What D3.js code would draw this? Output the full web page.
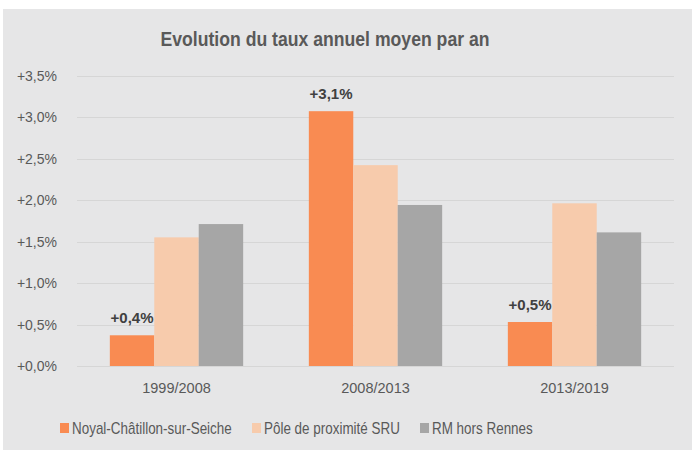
<!DOCTYPE html>
<html lang="fr">
<head>
<meta charset="UTF-8">
<title>Evolution du taux annuel moyen par an</title>
<style>
    body { margin: 0; background: #fff; }
    svg { display: block; }
    text { font-family: "Liberation Sans", Arial, sans-serif; fill: #595959; }
</style>
</head>
<body>
<svg width="692" height="450"></svg>
<script src="https://d3js.org/d3.v7.min.js"></script>
<script>
    // data
    const periods = ["1999/2008", "2008/2013", "2013/2019"];
    const seriesNames = ["Noyal-Châtillon-sur-Seiche", "Pôle de proximité SRU", "RM hors Rennes"];
    const noyal = [0.37, 3.07, 0.53];
    const pole = [1.55, 2.42, 1.96];
    const rmHorsRennes = [1.71, 1.94, 1.61];
    const noyalLabels = ["+0,4%", "+3,1%", "+0,5%"];
    const yTicks = [0, 0.5, 1, 1.5, 2, 2.5, 3, 3.5];
    const colors = ["#f98b52", "#f7cbac", "#a6a6a6"];

    const allSeries = [noyal, pole, rmHorsRennes];
    const narrow = 0.84; // no Arial Narrow here, squeeze Liberation Sans instead

    const svg = d3.select("svg");
    svg.append("rect").attr("x", 3).attr("y", 9).attr("width", 689).attr("height", 441).attr("fill", "#e6e6e7");

    svg.append("text")
        .attr("transform", `translate(325,46) scale(${narrow},1)`)
        .attr("text-anchor", "middle")
        .style("font-size", "21px").style("font-weight", "bold")
        .text("Evolution du taux annuel moyen par an");

    const x = d3.scaleBand().domain(periods).range([77, 674]).paddingInner(0.33).paddingOuter(0.165);
    const xs = d3.scaleBand().domain(d3.range(3)).range([0, x.bandwidth()]);
    const y = d3.scaleLinear().domain([0, 3.5]).range([366, 75.5]);

    const fmt = v => "+" + v.toFixed(1).replace(".", ",") + "%";

    // grid
    svg.append("g").selectAll("line").data(yTicks).enter().append("line")
        .attr("x1", 77).attr("x2", 674)
        .attr("y1", d => Math.round(y(d)) + 0.5).attr("y2", d => Math.round(y(d)) + 0.5)
        .attr("stroke", "#d6d6d6").attr("stroke-width", 1);

    // y axis labels
    svg.append("g").selectAll("text").data(yTicks).enter().append("text")
        .attr("x", 57).attr("y", d => y(d) + 5)
        .attr("text-anchor", "end")
        .style("font-size", "14px")
        .text(fmt);

    // bars
    allSeries.forEach((s, si) => {
        svg.append("g").selectAll("rect").data(s).enter().append("rect")
            .attr("x", (d, i) => x(periods[i]) + xs(si))
            .attr("width", xs.bandwidth())
            .attr("y", d => y(d))
            .attr("height", d => y(0) - y(d))
            .attr("fill", colors[si]);
    });

    // labels on first series
    svg.append("g").selectAll("text").data(noyal).enter().append("text")
        .attr("x", (d, i) => x(periods[i]) + xs(0) + xs.bandwidth() / 2)
        .attr("y", d => y(d) - 12)
        .attr("text-anchor", "middle")
        .style("font-size", "15px").style("font-weight", "bold")
        .style("fill", "#404040")
        .text((d, i) => noyalLabels[i]);

    // category labels
    svg.append("g").selectAll("text").data(periods).enter().append("text")
        .attr("x", d => x(d) + x.bandwidth() / 2)
        .attr("y", 393)
        .attr("text-anchor", "middle")
        .style("font-size", "14.5px")
        .text(d => d);

    // legend
    const legendX = [60, 252, 420];
    const legend = svg.append("g").selectAll("g").data(seriesNames).enter().append("g")
        .attr("transform", (d, i) => `translate(${legendX[i]},423)`);
    legend.append("rect").attr("width", 9).attr("height", 10).attr("fill", (d, i) => colors[i]);
    legend.append("text")
        .attr("transform", `translate(12,11) scale(${narrow},1)`)
        .style("font-size", "16px")
        .text(d => d);
</script>
</body>
</html>
